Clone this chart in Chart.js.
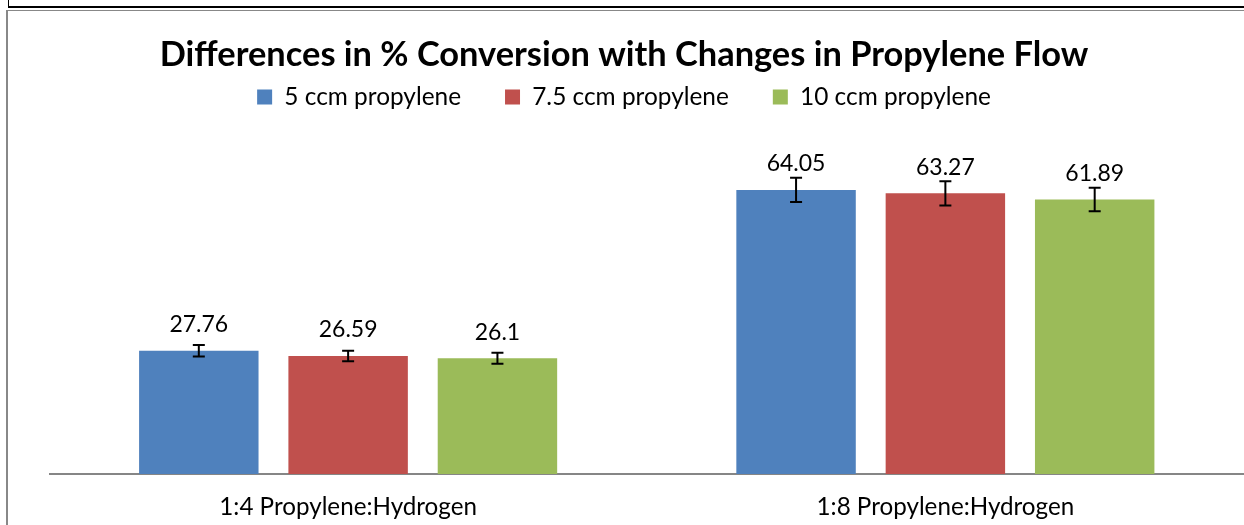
<!DOCTYPE html>
<html><head><meta charset="utf-8">
<script src="https://cdn.jsdelivr.net/npm/chart.js@4.4.1/dist/chart.umd.min.js"></script>
<style>
html,body{margin:0;padding:0;background:#fff;}
#wrap{position:relative;width:1244px;height:525px;overflow:hidden;}
canvas{position:absolute;left:0;top:0;}
.ln{position:absolute;}
</style></head><body>
<div id="wrap">
<canvas id="c" width="1244" height="525"></canvas>
<div class="ln" style="left:8px;top:0;width:1px;height:8px;background:#000"></div>
<div class="ln" style="left:8px;top:6px;width:1236px;height:2px;background:#000"></div>
<div class="ln" style="left:6px;top:10px;width:1238px;height:1px;background:#888"></div>
<div class="ln" style="left:6px;top:10px;width:2px;height:515px;background:#888"></div>
</div>
<script>
const categories = ['1:4 Propylene:Hydrogen', '1:8 Propylene:Hydrogen'];
const seriesNames = ['5 ccm propylene', '7.5 ccm propylene', '10 ccm propylene'];
const flow5 = [27.76, 64.05];
const flow75 = [26.59, 63.27];
const flow10 = [26.1, 61.89];
const err5 = [1.3, 2.75];
const err75 = [1.2, 2.75];
const err10 = [1.25, 2.65];
const titleText = 'Differences in % Conversion with Changes in Propylene Flow';

const FONT = 'Lato';
const colors = ['#4F81BD', '#C0504D', '#9BBB59'];
const values = [flow5, flow75, flow10];
const errors = [err5, err75, err10];

const errorBarPlugin = {
  id: 'errorBars',
  afterDatasetsDraw(chart) {
    const ctx = chart.ctx;
    const y = chart.scales.y;
    ctx.save();
    chart.data.datasets.forEach((ds, di) => {
      const meta = chart.getDatasetMeta(di);
      meta.data.forEach((bar, i) => {
        const v = ds.data[i];
        const e = ds.errors[i];
        const yt = y.getPixelForValue(v + e);
        const yb = y.getPixelForValue(v - e);
        ctx.strokeStyle = '#000';
        ctx.lineWidth = 2;
        ctx.beginPath();
        ctx.moveTo(bar.x, yt); ctx.lineTo(bar.x, yb);
        ctx.moveTo(bar.x - 6, yt); ctx.lineTo(bar.x + 6, yt);
        ctx.moveTo(bar.x - 6, yb); ctx.lineTo(bar.x + 6, yb);
        ctx.stroke();
        ctx.fillStyle = '#000';
        ctx.font = '23px ' + FONT;
        ctx.textAlign = 'center';
        ctx.textBaseline = 'middle';
        ctx.fillText(String(v), bar.x, bar.y - 26);
      });
    });
    ctx.restore();
  }
};

new Chart(document.getElementById('c'), {
  type: 'bar',
  data: {
    labels: categories,
    datasets: seriesNames.map((n, i) => ({
      label: n,
      data: values[i],
      errors: errors[i],
      backgroundColor: colors[i],
      borderWidth: 0,
      categoryPercentage: 0.75,
      barPercentage: 0.8
    }))
  },
  options: {
    responsive: false,
    animation: false,
    events: [],
    layout: { padding: { left: 4, right: 0, top: 0, bottom: -15 } },
    plugins: {
      title: {
        display: true,
        text: titleText,
        color: '#000',
        font: { family: FONT, size: 34.4, weight: 'bold' },
        padding: { top: 34.4, bottom: -34.9 }
      },
      legend: {
        display: true,
        position: 'top',
        labels: {
          color: '#000',
          font: { family: FONT, size: 24.4 },
          boxWidth: 15,
          boxHeight: 15,
          padding: 44
        }
      },
      tooltip: { enabled: false }
    },
    scales: {
      x: {
        grid: { display: false, drawTicks: false },
        border: { display: true, color: '#868686', width: 2 },
        ticks: { color: '#000', font: { family: FONT, size: 24.2 }, padding: 18.5 }
      },
      y: {
        min: 0, max: 80,
        grid: { display: false, drawTicks: false },
        border: { display: false },
        ticks: { display: false },
        afterFit(s) { s.width = 45.5; }
      }
    }
  },
  plugins: [errorBarPlugin]
});
</script>
</body></html>
